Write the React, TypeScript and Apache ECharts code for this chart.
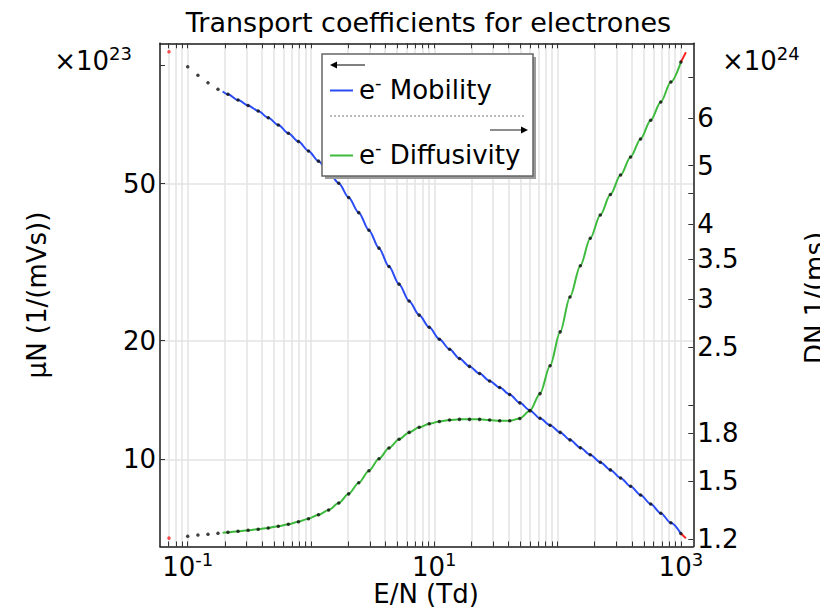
import { useEffect, useRef } from "react";
import * as echarts from "echarts";

// Reduced electric field E/N (Td) of the tabulated transport data
const fieldTd = [
  0.1, 0.121, 0.146, 0.176, 0.212, 0.256, 0.309, 0.373, 0.45, 0.543,
  0.655, 0.791, 0.954, 1.15, 1.39, 1.68, 2.02, 2.44, 2.95, 3.56,
  4.29, 5.18, 6.25, 7.54, 9.1, 11, 13.3, 16, 19.3, 23.3,
  28.1, 33.9, 40.9, 49.4, 59.6, 72, 86.9, 105, 126, 153,
  184, 222, 268, 324, 391, 471, 569, 687, 829, 1000,
];

// Reduced electron mobility muN, in units of 1e23 1/(m V s)
const mobility = [
  98.9, 94.1, 90.1, 86.7, 84.2, 81.4, 78.9, 76.4, 73.4, 70.4,
  67.1, 63.9, 60.5, 57.0, 53.5, 50.1, 46.1, 42.2, 38.1, 34.3,
  30.8, 27.8, 25.2, 23.2, 21.6, 20.15, 19.0, 18.0, 17.2, 16.5,
  15.8, 15.2, 14.6, 13.9, 13.3, 12.7, 12.2, 11.7, 11.2, 10.7,
  10.27, 9.83, 9.4, 8.97, 8.54, 8.12, 7.7, 7.3, 6.9, 6.48,
];

// Reduced electron diffusivity DN, in units of 1e24 1/(m s)
const diffusivity = [
  1.215, 1.22, 1.224, 1.229, 1.233, 1.238, 1.243, 1.248, 1.254, 1.262,
  1.272, 1.284, 1.299, 1.319, 1.343, 1.379, 1.428, 1.49, 1.56, 1.633,
  1.701, 1.759, 1.806, 1.841, 1.866, 1.883, 1.893, 1.898, 1.898, 1.898,
  1.893, 1.888, 1.888, 1.905, 1.961, 2.094, 2.329, 2.651, 3.029, 3.413,
  3.789, 4.142, 4.478, 4.824, 5.17, 5.539, 5.947, 6.378, 6.883, 7.427,
];

// First point of the interpolated curves
const curveStartTd = 0.192;
const mobilityCurveStart = 85.6;
const diffusivityCurveStart = 1.231;

// Extrapolated values outside the table (drawn in red)
const lowTd = 0.0705;
const lowMobility = 108;
const lowDiffusivity = 1.206;
const highTd = 1098;
const highMobility = 6.31;
const highDiffusivity = 7.71;

// Axis ranges and ticks (real units, axes are logarithmic)
const fieldRange = [0.0596, 1261];
const mobilityRange = [6.01, 113.4];
const diffusivityRange = [1.168, 7.98];
const fieldTicks = [
  0.07, 0.08, 0.09,
  0.1, 0.2, 0.3, 0.4, 0.5, 0.6, 0.7, 0.8, 0.9,
  1, 2, 3, 4, 5, 6, 7, 8, 9,
  10, 20, 30, 40, 50, 60, 70, 80, 90,
  100, 200, 300, 400, 500, 600, 700, 800, 900, 1000,
];
const fieldLabels = [0.1, 10, 1000];
const mobilityTicks = [10, 20, 50];
const mobilityTopTick = [100];
const diffusivityTicks = [1.2, 1.5, 1.8, 2, 2.5, 3, 3.5, 4, 4.5, 5, 6, 7];
const diffusivityLabels = [1.2, 1.5, 1.8, 2.5, 3, 3.5, 4, 5, 6];

const FONT = "'DejaVu Sans', sans-serif";
const BLUE = "#2a4cf5";
const GREEN = "#3dbb3d";
const RED = "#ff2222";
const FRAME = "#1a1a1a";
const GRID = "#e3e3e3";

const lg = Math.log10;
const pts = (xs: number[], ys: number[]) => xs.map((x, i) => [lg(x), lg(ys[i])]);

const supRich = {
  m: { fontSize: 26, lineHeight: 26, fontFamily: FONT, color: "#000", fill: "#000", padding: [7, 0, 0, 0], verticalAlign: "middle" },
  s: { fontSize: 18, lineHeight: 18, fontFamily: FONT, color: "#000", fill: "#000", verticalAlign: "top" },
};

export default function App() {
  const ref = useRef<HTMLDivElement>(null);

  useEffect(() => {
    if (!ref.current) return;
    const chart = echarts.init(ref.current, undefined, { renderer: "svg" });

    const axisLine = { show: true, onZero: false, lineStyle: { color: FRAME, width: 1.5 } };
    const tickStyle = { color: "#333", width: 1 };
    const labelBase = { fontSize: 26, fontFamily: FONT, color: "#000" };

    const xMin = lg(fieldRange[0]);
    const xMax = lg(fieldRange[1]);
    const ylMin = lg(mobilityRange[0]);
    const ylMax = lg(mobilityRange[1]);
    const yrMin = lg(diffusivityRange[0]);
    const yrMax = lg(diffusivityRange[1]);

    const mobilityCurve = [
      [lg(curveStartTd), lg(mobilityCurveStart)],
      ...pts(fieldTd.slice(4), mobility.slice(4)),
    ];
    const diffusivityCurve = [
      [lg(curveStartTd), lg(diffusivityCurveStart)],
      ...pts(fieldTd.slice(4), diffusivity.slice(4)),
    ];
    const last = fieldTd.length - 1;

    const option: any = {
      animation: false,
      grid: { left: 160, top: 43.3, width: 533.3, height: 503.2 },
      xAxis: [
        {
          type: "value",
          position: "bottom",
          min: xMin,
          max: xMax,
          axisLine,
          axisTick: { show: true, inside: true, length: 5, customValues: fieldTicks.map(lg), lineStyle: tickStyle },
          axisLabel: {
            show: true,
            margin: 4,
            customValues: fieldLabels.map(lg),
            formatter: (v: number) => `{m|10}{s|${Math.round(v)}}`,
            rich: supRich,
          },
          splitLine: { show: true, lineStyle: { color: GRID, width: 1.5 } },
        },
        {
          type: "value",
          position: "top",
          min: xMin,
          max: xMax,
          axisLine,
          axisTick: { show: true, inside: true, length: 5, customValues: fieldTicks.map(lg), lineStyle: tickStyle },
          axisLabel: { show: false },
          splitLine: { show: false },
        },
      ],
      yAxis: [
        {
          type: "value",
          position: "left",
          min: ylMin,
          max: ylMax,
          axisLine,
          axisTick: { show: true, inside: true, length: 5, customValues: mobilityTicks.map(lg), lineStyle: tickStyle },
          axisLabel: {
            ...labelBase,
            margin: 4,
            customValues: mobilityTicks.map(lg),
            formatter: (v: number) => String(Math.round(Math.pow(10, v))),
          },
          splitLine: { show: true, lineStyle: { color: GRID, width: 1.5 } },
        },
        {
          type: "value",
          position: "right",
          min: yrMin,
          max: yrMax,
          axisLine,
          axisTick: { show: true, inside: true, length: 5, customValues: diffusivityTicks.map(lg), lineStyle: tickStyle },
          axisLabel: {
            ...labelBase,
            margin: 4,
            customValues: diffusivityLabels.map(lg),
            formatter: (v: number) => String(Number(Math.pow(10, v).toFixed(1))),
          },
          splitLine: { show: false },
        },
        {
          type: "value",
          position: "left",
          min: ylMin,
          max: ylMax,
          axisLine: { show: false, onZero: false },
          axisTick: { show: true, inside: true, length: 5, customValues: mobilityTopTick.map(lg), lineStyle: tickStyle },
          axisLabel: { show: false },
          splitLine: { show: false },
        },
      ],
      series: [
        {
          name: "e- Mobility",
          type: "line",
          xAxisIndex: 0,
          yAxisIndex: 0,
          data: mobilityCurve,
          showSymbol: false,
          smooth: 0.3,
          smoothMonotone: "x",
          lineStyle: { color: BLUE, width: 2 },
          silent: true,
          z: 3,
        },
        {
          name: "e- Diffusivity",
          type: "line",
          xAxisIndex: 0,
          yAxisIndex: 1,
          data: diffusivityCurve,
          showSymbol: false,
          smooth: 0.3,
          smoothMonotone: "x",
          lineStyle: { color: GREEN, width: 2 },
          silent: true,
          z: 3,
        },
        {
          type: "line",
          xAxisIndex: 0,
          yAxisIndex: 0,
          data: [[lg(fieldTd[last]), lg(mobility[last])], [lg(highTd), lg(highMobility)]],
          showSymbol: false,
          lineStyle: { color: RED, width: 2 },
          silent: true,
          z: 3,
        },
        {
          type: "line",
          xAxisIndex: 0,
          yAxisIndex: 1,
          data: [[lg(fieldTd[last]), lg(diffusivity[last])], [lg(highTd), lg(highDiffusivity)]],
          showSymbol: false,
          lineStyle: { color: RED, width: 2 },
          silent: true,
          z: 3,
        },
        {
          type: "scatter",
          xAxisIndex: 0,
          yAxisIndex: 0,
          data: pts(fieldTd, mobility),
          symbol: "circle",
          symbolSize: 3.5,
          itemStyle: { color: "#111" },
          silent: true,
          z: 4,
        },
        {
          type: "scatter",
          xAxisIndex: 0,
          yAxisIndex: 1,
          data: pts(fieldTd, diffusivity),
          symbol: "circle",
          symbolSize: 3.5,
          itemStyle: { color: "#111" },
          silent: true,
          z: 4,
        },
        {
          type: "scatter",
          xAxisIndex: 0,
          yAxisIndex: 0,
          data: [[lg(lowTd), lg(lowMobility)]],
          symbolSize: 3.5,
          itemStyle: { color: RED },
          silent: true,
          z: 4,
        },
        {
          type: "scatter",
          xAxisIndex: 0,
          yAxisIndex: 1,
          data: [[lg(lowTd), lg(lowDiffusivity)]],
          symbolSize: 3.5,
          itemStyle: { color: RED },
          silent: true,
          z: 4,
        },
      ],
      graphic: [
        {
          type: "text",
          x: 428.5,
          y: 22,
          z: 100,
          style: { text: "Transport coefficients for electrones", font: `27px ${FONT}`, fill: "#000", align: "center", verticalAlign: "middle" },
        },
        {
          type: "text",
          x: 132,
          y: 57.8,
          z: 100,
          style: { text: "{m|×10}{s|23}", rich: supRich, align: "right", verticalAlign: "middle" },
        },
        {
          type: "text",
          x: 722,
          y: 57.8,
          z: 100,
          style: { text: "{m|×10}{s|24}", rich: supRich, align: "left", verticalAlign: "middle" },
        },
        {
          type: "text",
          x: 426,
          y: 593.5,
          z: 100,
          style: { text: "E/N (Td)", font: `26px ${FONT}`, fill: "#000", align: "center", verticalAlign: "middle" },
        },
        {
          type: "text",
          x: 37,
          y: 295,
          rotation: Math.PI / 2,
          z: 100,
          style: { text: "μN (1/(mVs))", font: `26px ${FONT}`, fill: "#000", align: "center", verticalAlign: "middle" },
        },
        {
          type: "text",
          x: 815,
          y: 298,
          rotation: Math.PI / 2,
          z: 100,
          style: { text: "DN 1/(ms)", font: `26px ${FONT}`, fill: "#000", align: "center", verticalAlign: "middle" },
        },
        {
          type: "group",
          z: 100,
          children: [
            { type: "rect", z: 100, shape: { x: 325, y: 57, width: 211, height: 122 }, style: { fill: "#9a9a9a" } },
            { type: "rect", z: 101, shape: { x: 322, y: 54, width: 211, height: 122 }, style: { fill: "#fff", stroke: "#666", lineWidth: 1.5 } },
            { type: "line", z: 102, shape: { x1: 334, y1: 65, x2: 365, y2: 65 }, style: { stroke: "#000", lineWidth: 1 } },
            { type: "polygon", z: 102, shape: { points: [[330, 65], [337, 61.5], [337, 68.5]] }, style: { fill: "#000" } },
            { type: "line", z: 102, shape: { x1: 330, y1: 90.5, x2: 353, y2: 90.5 }, style: { stroke: BLUE, lineWidth: 2 } },
            {
              type: "text",
              z: 102,
              x: 359,
              y: 86.5,
              style: { text: "{m|e}{s|-}{m| Mobility}", rich: supRich, align: "left", verticalAlign: "middle" },
            },
            { type: "line", z: 102, shape: { x1: 330, y1: 116, x2: 525, y2: 116 }, style: { stroke: "#777", lineWidth: 1, lineDash: [2, 2] } },
            { type: "line", z: 102, shape: { x1: 490, y1: 130, x2: 522, y2: 130 }, style: { stroke: "#666", lineWidth: 1.5 } },
            { type: "polygon", z: 102, shape: { points: [[528, 130], [521, 126.5], [521, 133.5]] }, style: { fill: "#000" } },
            { type: "line", z: 102, shape: { x1: 330, y1: 155.5, x2: 353, y2: 155.5 }, style: { stroke: GREEN, lineWidth: 2 } },
            {
              type: "text",
              z: 102,
              x: 359,
              y: 151.5,
              style: { text: "{m|e}{s|-}{m| Diffusivity}", rich: supRich, align: "left", verticalAlign: "middle" },
            },
          ],
        },
      ],
    };

    chart.setOption(option);
    return () => chart.dispose();
  }, []);

  return (
    <div
      ref={ref}
      style={{ position: "fixed", left: 0, top: 0, width: 820, height: 607, background: "#fff" }}
    />
  );
}
